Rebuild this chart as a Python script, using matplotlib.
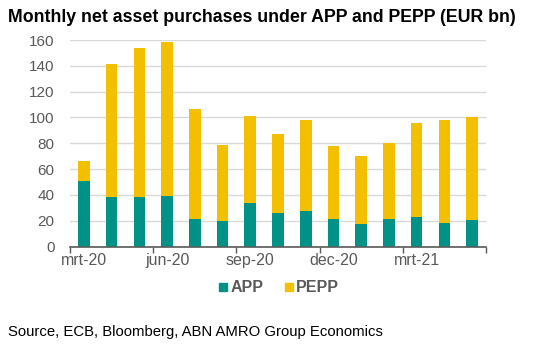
import matplotlib
matplotlib.use("Agg")
import matplotlib.pyplot as plt
from matplotlib.lines import Line2D
import numpy as np

plt.rcParams['font.family'] = ['Liberation Sans', 'DejaVu Sans']

months = ["mrt-20", "apr-20", "mei-20", "jun-20", "jul-20", "aug-20", "sep-20",
          "okt-20", "nov-20", "dec-20", "jan-21", "feb-21", "mrt-21", "apr-21", "mei-21"]
app = [51, 38.5, 38.5, 39.5, 21, 19.5, 34, 26, 27.5, 21, 17.5, 21, 23, 18.5, 20.5]
total = [66, 141.5, 154, 158.5, 106.5, 78.5, 101, 87.5, 98, 77.5, 70.5, 80, 95.5, 98, 100]
pepp = [t - a for t, a in zip(total, app)]
tick_labels = ["mrt-20", "jun-20", "sep-20", "dec-20", "mrt-21"]

GREEN = "#009286"
YELLOW = "#F3C000"
GRAY = "#595959"

W, H = 543, 352
fig = plt.figure(figsize=(W/100, H/100), dpi=100)
ax = fig.add_axes([70/W, 1-246.5/H, (486-70)/W, (246.5-40)/H])

x = np.arange(len(months))
ax.bar(x, app, width=0.42, color=GREEN, zorder=3)
ax.bar(x, pepp, bottom=app, width=0.42, color=YELLOW, zorder=3)

ax.set_xlim(-0.5, len(months)-0.5)
ax.set_ylim(0, 160)
ax.set_yticks(range(0, 161, 20))
ax.yaxis.grid(True, color="#d9d9d9", linewidth=1, zorder=0)
ax.tick_params(axis='y', length=0, labelsize=11, labelcolor=GRAY, pad=11)

label_pos = [months.index(m) for m in tick_labels]
ax.set_xticks(label_pos)
ax.set_xticklabels(tick_labels)
ax.tick_params(axis='x', which='major', length=0, labelsize=11.5, labelcolor=GRAY, pad=5)
ax.set_xticks(np.arange(-0.5, len(months), 3), minor=True)
ax.tick_params(axis='x', which='minor', length=4, color=GRAY, width=1)

for s in ['top', 'right', 'left']:
    ax.spines[s].set_visible(False)
ax.spines['bottom'].set_color(GRAY)
ax.spines['bottom'].set_linewidth(1.2)
ax.spines['bottom'].set_zorder(4)

fig.text(8/W, 1-17/H, "Monthly net asset purchases under APP and PEPP (EUR bn)",
         fontsize=12.8, fontweight='bold', color='black', va='center', ha='left')

handles = [Line2D([0], [0], marker='s', linestyle='', color=GREEN, markersize=5.5),
           Line2D([0], [0], marker='s', linestyle='', color=YELLOW, markersize=5.5)]
leg = fig.legend(handles, ["APP", "PEPP"], loc='center', bbox_to_anchor=(278/W, 1-288/H),
                 ncol=2, frameon=False, handletextpad=0.05, columnspacing=1.2,
                 handlelength=0.8, prop={'size': 11.5, 'weight': 'bold'})
for t in leg.get_texts():
    t.set_color(GRAY)

fig.text(8/W, 1-332/H, "Source, ECB, Bloomberg, ABN AMRO Group Economics",
         fontsize=10.7, color='black', va='center', ha='left')

fig.savefig("out.png", dpi=100)
